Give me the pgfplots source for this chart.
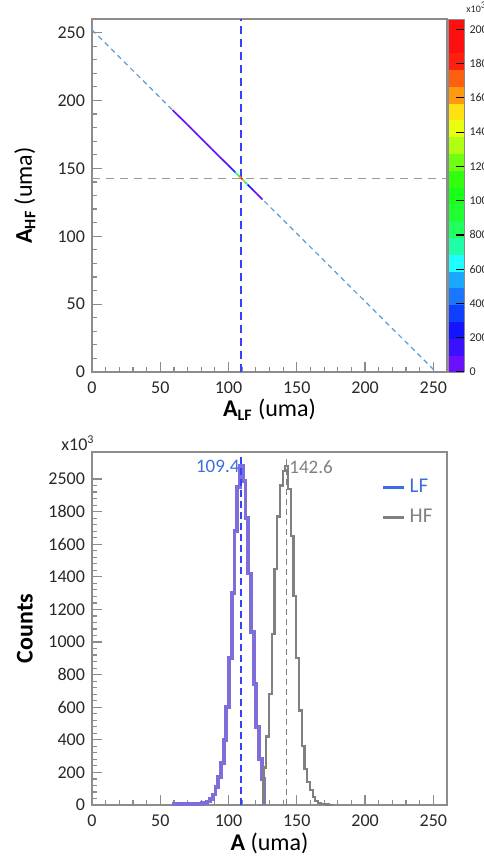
\documentclass[border=0pt]{standalone}
\usepackage{fontspec}
\setmainfont{Carlito}
\usepackage{pgfplots}
\pgfplotsset{compat=1.18}
\definecolor{lfhist}{RGB}{125,110,218}
\definecolor{lfblue}{RGB}{60,110,225}
\definecolor{vblue}{RGB}{55,65,250}
\definecolor{hfgray}{RGB}{128,128,128}
\definecolor{diagblue}{RGB}{90,155,215}
\definecolor{framegray}{RGB}{140,140,140}
\definecolor{ticktext}{RGB}{40,40,40}
\pgfplotsset{
  colormap={rootrainbow}{rgb255=(106,16,255) rgb255=(58,16,255) rgb255=(20,20,255) rgb255=(16,64,255) rgb255=(26,120,255) rgb255=(26,168,255) rgb255=(32,255,255) rgb255=(32,255,168) rgb255=(32,255,96) rgb255=(32,255,48) rgb255=(24,255,24) rgb255=(48,255,16) rgb255=(112,255,16) rgb255=(176,255,16) rgb255=(232,255,16) rgb255=(255,224,16) rgb255=(255,154,16) rgb255=(255,96,16) rgb255=(255,32,16) rgb255=(255,16,16) rgb255=(255,16,16)},
  rootstyle/.style={
    scale only axis,
    width=177.5pt, height=176.5pt,
    xmin=0, xmax=260,
    tick pos=left, tick align=inside,
    major tick length=5pt, minor tick length=2.5pt,
    axis line style={draw=framegray, line width=0.8pt},
    tick style={draw=framegray, line width=0.6pt},
    /pgf/number format/assume math mode=true,
    /pgf/number format/set thousands separator={},
    tick label style={font=\fontsize{9}{10}\selectfont, text=ticktext},
    xticklabel style={yshift=-1.5pt},
    xtick={0,50,...,250},
    minor x tick num=4,
    minor y tick num=4,
    xlabel style={at={(axis description cs:0.5,-0.1076)}, anchor=center, font=\fontsize{12}{14}\selectfont},
    ylabel style={at={(axis description cs:-0.189,0.5)}, anchor=center, font=\fontsize{12}{14}\selectfont},
  }
}
\pgfplotstableread{
x y c
59 193 40
70 182 40
80 172 40
90 162 40
95 157 60
100 152 120
103 149 250
105 147 450
106 146 750
107 145 1000
108 144 1300
109 143 2000
110 142 1800
111 141 1400
112 140 1100
113 139 800
114 138 400
116 136 150
118 134 60
125 127 40
}\diagdata
\pgfplotstableread{
x y
58.4 8
60.4 8
62.4 8
64.4 8
66.4 8
68.4 8
70.4 8
72.4 8
74.4 8
76.4 8
78.4 8
80.4 10
82.4 14
84.4 22
86.4 38
88.4 65
90.4 110
92.4 170
94.4 260
96.4 400
98.4 600
100.4 900
102.4 1300
104.4 1680
106.4 1950
108.4 2080
110.4 1990
112.4 1760
114.4 1420
116.4 1060
118.4 740
120.4 480
122.4 280
124.4 160
126.4 0
}\lfdata
\pgfplotstableread{
x y
125.6 0
125.6 230
127.6 420
129.6 680
131.6 1050
133.6 1450
135.6 1770
137.6 1960
139.6 2050
141.6 2080
143.6 1940
145.6 1650
147.6 1280
149.6 900
151.6 580
153.6 360
155.6 220
157.6 140
159.6 90
161.6 50
163.6 25
165.6 12
167.6 6
169.6 4
171.6 3
173.6 2
175.6 0
}\hfdata
\begin{document}
\begin{tikzpicture}
\useasboundingbox (0,0) rectangle (241.5pt,432pt);
% ---------------- top panel ----------------
\begin{axis}[rootstyle,
  at={(46pt,246pt)}, anchor=south west,
  ymin=0, ymax=260,
  ytick={0,50,...,250},
  xlabel={\textbf{A\textsubscript{LF}} (uma)},
  ylabel={\textbf{A\textsubscript{HF}} (uma)},
  colormap name=rootrainbow,
  colormap access=piecewise constant,
  point meta min=0, point meta max=2060,
  colorbar,
  colorbar style={
    scale only axis,
    width=8pt, height=176.5pt,
    at={(parent axis.north east)}, anchor=north west, xshift={0.75pt-0.3cm},
    ytick={0,200,...,2000},
    ytick pos=right, yticklabel pos=right,
    tick align=inside,
    major tick length=4pt,
    minor tick num=0,
    tick style={draw=black, line width=0.6pt},
    axis line style={draw=framegray, line width=0.5pt},
    /pgf/number format/assume math mode=true,
    /pgf/number format/set thousands separator={},
    yticklabel style={font=\fontsize{6}{7}\selectfont, text=ticktext, xshift=-1pt},
  },
]
\addplot[diagblue, line width=0.6pt, dash pattern=on 2.5pt off 2pt] coordinates {(0,252) (252,0)};
\addplot[hfgray!80, line width=0.7pt, dash pattern=on 4pt off 3pt] coordinates {(0,142.6) (260,142.6)};
\addplot[vblue, line width=0.9pt, dash pattern=on 4pt off 2.5pt] coordinates {(109.4,0) (109.4,260)};
\addplot[mesh, point meta=explicit, line width=0.8pt] table[x=x, y=y, meta=c] {\diagdata};
\end{axis}
\node[anchor=west, font=\fontsize{5}{6}\selectfont, text=ticktext, inner sep=0pt] at (233pt,428.5pt) {x10\textsuperscript{3}};
% ---------------- bottom panel ----------------
\begin{axis}[rootstyle,
  at={(46pt,29.5pt)}, anchor=south west,
  ymin=0, ymax=2166,
  ytick={0,200,...,2000},
  yticklabels={0,200,400,600,800,1000,1200,1400,1600,1800,2500},
  xlabel={\textbf{A} (uma)},
  ylabel={\textbf{Counts}},
  legend style={at={(axis description cs:0.815,0.935)}, anchor=north west, draw=none, fill=none,
    font=\fontsize{10.5}{12}\selectfont, inner sep=0pt, row sep=2.5pt},
  legend cell align=left,
  legend image code/.code={\draw[#1] (0pt,0pt) -- (10.5pt,0pt);},
]
\addplot[const plot, lfhist, line width=1.9pt, forget plot] table[x=x, y=y] {\lfdata};
\addplot[const plot, hfgray, line width=1.1pt, forget plot] table[x=x, y=y] {\hfdata};
\addplot[vblue, line width=0.9pt, dash pattern=on 3.5pt off 2pt, forget plot] coordinates {(109.4,0) (109.4,2140)};
\addplot[hfgray, line width=0.8pt, dash pattern=on 3pt off 2pt, forget plot] coordinates {(142.6,0) (142.6,2130)};
\node[anchor=east, text=lfblue, font=\fontsize{9.5}{11}\selectfont, inner sep=0.5pt] at (axis cs:109.0,2075) {109.4};
\node[anchor=west, text=hfgray, font=\fontsize{9.5}{11}\selectfont, inner sep=0.5pt] at (axis cs:143.6,2075) {142.6};
\addlegendimage{lfblue, line width=1.5pt}
\addlegendentry{\textcolor{lfblue}{LF}}
\addlegendimage{hfgray, line width=1.5pt}
\addlegendentry{\textcolor{hfgray}{HF}}
\end{axis}
\node[anchor=center, font=\fontsize{9}{10}\selectfont, text=ticktext] at (39pt,210.5pt) {x10\textsuperscript{3}};
\end{tikzpicture}
\end{document}
